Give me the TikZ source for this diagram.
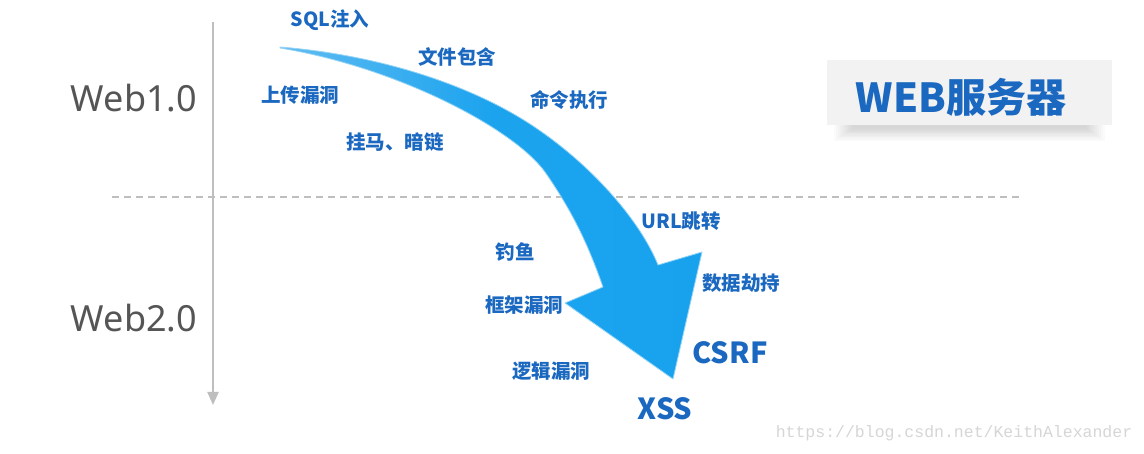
\documentclass[tikz,border=0pt]{standalone}
\usepackage{fontspec}
\setmainfont{Noto Sans}
\newfontfamily\cjk{Noto Sans CJK SC}
\newfontfamily\latin{Noto Sans}
\newfontfamily\wmono{Liberation Mono}
\usetikzlibrary{arrows.meta}
\definecolor{lblblue}{RGB}{27,104,192}
\definecolor{arrowblue}{RGB}{24,162,238}
\definecolor{arrowlight}{RGB}{95,188,242}
\definecolor{arrowedge}{RGB}{150,212,246}
\definecolor{axisgray}{RGB}{190,190,190}
\definecolor{webgray}{RGB}{85,85,85}
\definecolor{boxgray}{RGB}{242,242,242}
\tikzset{
  lbl/.style={inner sep=0pt, text=lblblue, font=\cjk\bfseries\fontsize{19.5}{20}\selectfont},
  biglbl/.style={inner sep=0pt, text=lblblue, font=\cjk\bfseries\fontsize{29}{30}\selectfont},
  era/.style={inner sep=0pt, text=webgray, font=\latin\fontsize{36}{38}\selectfont},
  axisline/.style={draw=axisgray, line width=2pt, -{Triangle[width=11pt,length=13pt]}},
  sepline/.style={draw=axisgray, line width=1.6pt, dash pattern=on 7pt off 5pt},
  serverbox/.style={fill=boxgray, draw=none, inner sep=0pt, minimum width=285pt, minimum height=65pt},
}
\begin{document}
\begin{tikzpicture}[x=1pt,y=-1pt]
\fill[white] (0,0) rectangle (1144,454);
\useasboundingbox (0,0) rectangle (1144,454);

% axis and separator
\coordinate (axtop) at (213,22);
\coordinate (axbot) at (213,405);
\coordinate (sepL) at (112,197);
\coordinate (sepR) at (1020,197);
\draw[sepline] (sepL) -- (sepR);
\draw[axisline] (axtop) -- (axbot);

\node[era] (web1) at (134,98) {Web1.0};
\node[era] (web2) at (134,318) {Web2.0};

% big curved arrow
\shade[left color=arrowlight, right color=arrowblue, middle color=arrowblue!95!arrowlight,
       draw=arrowedge, line width=0.8pt, line join=round]
  (280,47) .. controls (380,55) and (470,85) .. (530,124)
  .. controls (590,163) and (640,220) .. (658,265)
  -- (702,252) -- (673,379) -- (565,303) -- (603,287)
  .. controls (590,250) and (575,215) .. (545,172)
  .. controls (515,130) and (400,68) .. (280,48)
  -- cycle;

% labels
\node[lbl] (sql) at (330,20) {SQL注入};
\node[lbl] (file) at (457,57) {文件包含};
\node[lbl] (upload) at (300,95) {上传漏洞};
\node[lbl] (cmd) at (569,100) {命令执行};
\node[lbl] (trojan) at (395,142) {挂马、暗链};
\node[lbl] (url) at (681,221) {URL跳转};
\node[lbl] (phish) at (515,252) {钓鱼};
\node[lbl] (hijack) at (741,283) {数据劫持};
\node[lbl] (frame) at (524,305) {框架漏洞};
\node[lbl] (logic) at (551,371) {逻辑漏洞};
\node[biglbl] (csrf) at (730,353) {CSRF};
\node[biglbl] (xss) at (665,409) {XSS};

% server box with soft shadow
\foreach \i in {0,...,9}{
  \fill[black, opacity=0.014] (834+2*\i,78) rectangle (1105-2*\i,141-1.3*\i);
}
\node[serverbox] (server) at (969.5,92.5) {};
\node[inner sep=0pt, text=lblblue, font=\cjk\bfseries\fontsize{40}{42}\selectfont] (servertext) at (961,97) {WEB服务器};

% watermark
\node[inner sep=0pt, text=black!16, font=\wmono\fontsize{16.5}{18}\selectfont] (wm) at (954,433) {https://blog.csdn.net/KeithAlexander};
\end{tikzpicture}
\end{document}
